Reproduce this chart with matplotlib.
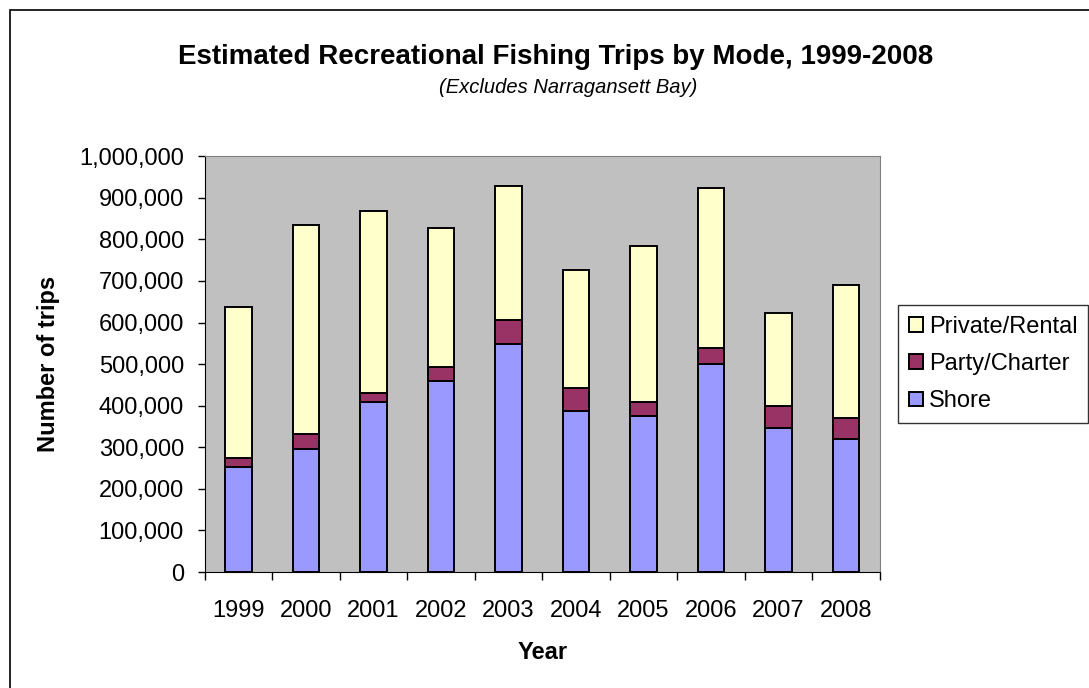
import matplotlib.pyplot as plt
import matplotlib.patches as mpatches
import numpy as np

plt.rcParams['font.family'] = ['Liberation Sans', 'DejaVu Sans']

years = ["1999", "2000", "2001", "2002", "2003", "2004", "2005", "2006", "2007", "2008"]
shore = [252600, 295100, 408200, 459500, 547700, 387300, 375300, 501200, 346400, 319200]
party_charter = [20900, 36900, 21600, 32900, 59400, 55400, 32900, 38500, 53800, 51300]
private_rental = [364000, 502800, 438700, 334400, 321500, 283000, 376100, 384100, 223700, 320800]

x = np.arange(len(years))
width = 0.39

fig = plt.figure(figsize=(10.89, 6.88), dpi=100)
ax = fig.add_axes([0.188, 0.1686, 0.62, 0.6044])
ax.set_facecolor('#C0C0C0')

bottom2 = np.array(shore)
bottom3 = bottom2 + np.array(party_charter)
ax.bar(x, shore, width, color='#9999FF', edgecolor='black', linewidth=1.4, label='Shore')
ax.bar(x, party_charter, width, bottom=bottom2, color='#993366', edgecolor='black', linewidth=1.4, label='Party/Charter')
ax.bar(x, private_rental, width, bottom=bottom3, color='#FFFFCC', edgecolor='black', linewidth=1.4, label='Private/Rental')

ax.set_xlim(-0.5, len(years) - 0.5)
ax.set_ylim(0, 1000000)
ax.set_yticks(np.arange(0, 1000001, 100000))
ax.set_yticklabels([f"{v:,}" for v in range(0, 1000001, 100000)], fontsize=17)

# ticks between categories, labels at centres
ax.set_xticks(np.arange(-0.5, len(years), 1.0))
ax.set_xticklabels([])
ax.set_xticks(x, minor=True)
ax.set_xticklabels(years, minor=True, fontsize=17)
ax.tick_params(axis='x', which='major', direction='out', length=6, width=1)
ax.tick_params(axis='x', which='minor', length=0, pad=20)
ax.tick_params(axis='y', direction='out', length=5, width=1, pad=10)

for side in ['top', 'right']:
    ax.spines[side].set_color('#808080')
for side in ['left', 'bottom']:
    ax.spines[side].set_color('black')

ax.set_ylabel('Number of trips', fontsize=17, fontweight='bold', labelpad=14)
ax.set_xlabel('Year', fontsize=17, fontweight='bold', labelpad=14)

fig.text(0.51, 0.917, 'Estimated Recreational Fishing Trips by Mode, 1999-2008',
         ha='center', va='center', fontsize=20, fontweight='bold')
fig.text(0.522, 0.873, '(Excludes Narragansett Bay)', ha='center', va='center',
         fontsize=14.5, style='italic')

handles, labels = ax.get_legend_handles_labels()
leg = fig.legend(handles[::-1], labels[::-1], loc='upper left',
                 bbox_to_anchor=(898 / 1089, 1 - 305 / 688), fontsize=17,
                 frameon=True, fancybox=False, edgecolor='black',
                 handlelength=0.6, handleheight=0.6, handletextpad=0.25,
                 borderpad=0.45, labelspacing=0.65, borderaxespad=0)
leg.get_frame().set_linewidth(1)

# outer chart border
fig.patches.append(mpatches.Rectangle((10 / 1089, -0.1), 1.2, 1 - 10 / 688 + 0.1,
                                      transform=fig.transFigure, fill=False,
                                      edgecolor='black', linewidth=1.2))

fig.savefig('out.png', dpi=100)
